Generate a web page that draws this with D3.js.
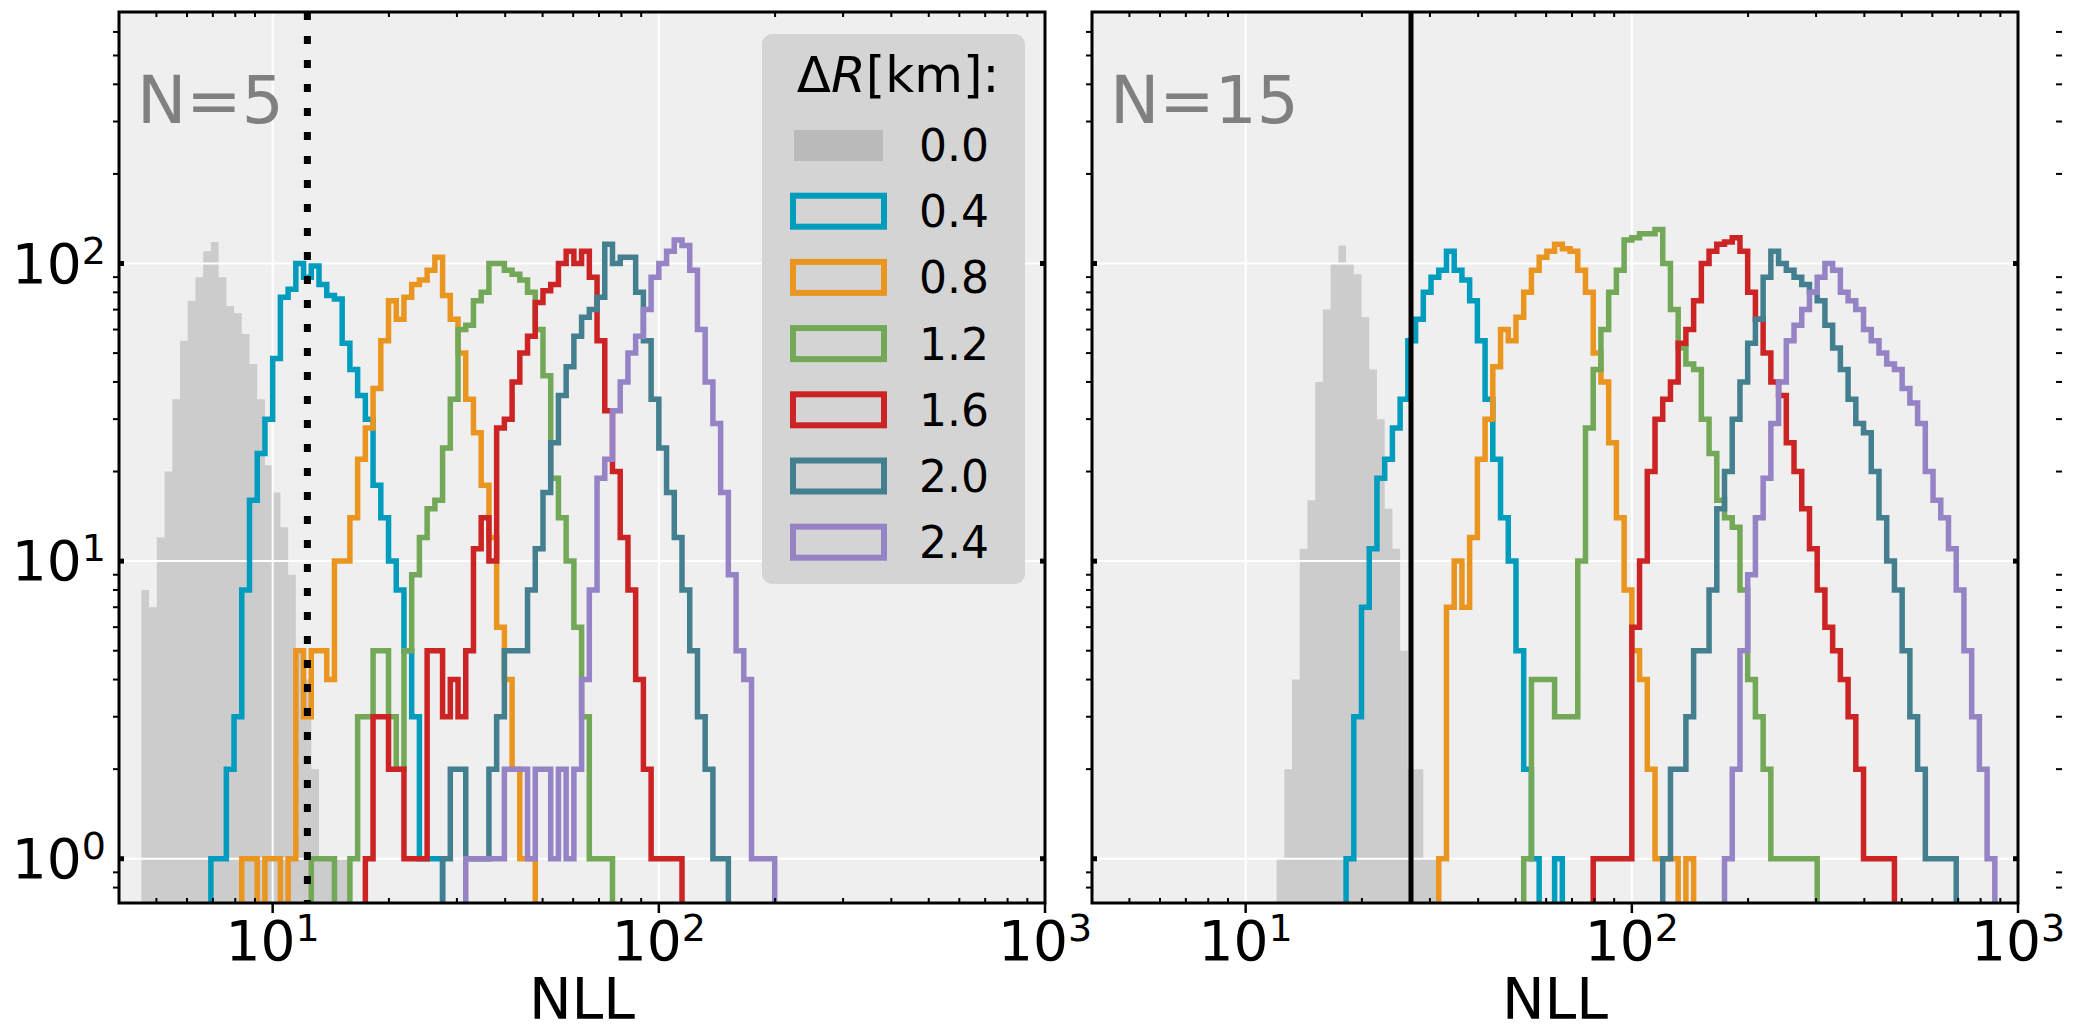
<!DOCTYPE html>
<html>
<head>
<meta charset="utf-8">
<script src="https://cdn.jsdelivr.net/npm/d3@7"></script>
<style>
  body { margin: 0; background: #fff; }
  svg { display: block; }
  text { font-family: "DejaVu Sans", sans-serif; }
</style>
</head>
<body>
<svg id="chart" width="2074" height="1035"></svg>
<script>
// legend entries + colours (first one is the filled reference histogram)
const dRLabels = ['0.0', '0.4', '0.8', '1.2', '1.6', '2.0', '2.4']
const colors = ['#cccccc', '#009cbd', '#ea951f', '#72a857', '#cc2424', '#437f8e', '#9583c5']

// histogram bins are 0.02 dex wide in NLL, each series = first bin edge (log10 NLL) + counts
const binDex = 0.02

// N=5 panel
const n5Starts = [0.66, 0.84, 0.92, 1.10, 1.24, 1.44, 1.50]
const n5Gray   = [8,7,12,20,35,55,75,90,110,118,90,72,68,58,46,35,21,17,13,9,5,4,2,1,1,1,1]
const n5Cyan   = [1,1,2,3,8,16,23,30,48,77,82,100,90,98,85,78,76,54,44,36,30,18,14,10,8,5,3,1,1,1]
const n5Orange = [1,1,0,1,1,0,1,5,3,5,5,4,10,10,14,22,28,38,55,75,65,77,85,88,95,105,78,65,50,35,27,18,12,6,4,2,1,1]
const n5Green  = [1,1,1,0,0,1,3,3,5,5,3,2,5,9,12,15,16,24,35,60,62,75,80,100,100,95,92,88,80,60,42,19,14,10,6,3,1,1,1]
const n5Red    = [1,3,3,2,2,1,1,1,5,5,3,4,3,5,11,14,10,28,30,40,50,57,74,81,85,100,110,100,110,90,55,32,20,12,8,4,2,1,1,1,1]
const n5Teal   = [1,2,2,1,1,1,2,3,5,5,5,8,11,17,25,36,45,57,66,70,77,116,100,105,105,80,55,35,24,17,12,8,5,3,2,1,1]
const n5Purple = [1,1,1,1,1,2,2,2,1,2,2,1,2,1,2,4,8,19,22,32,40,50,57,70,90,100,110,120,115,95,60,40,29,17,9,5,4,1,1,1]
const n5Threshold = 12.3

// N=15 panel
const n15Starts = [1.08, 1.26, 1.50, 1.72, 1.90, 2.08, 2.24]
const n15Gray   = [1,2,4,11,16,40,70,100,115,100,92,66,44,30,15,11,5,2,2,1,1]
const n15Cyan   = [1,3,7,11,19,22,28,35,55,65,80,90,95,110,95,88,75,55,35,22,14,10,5,2,1,0,0,1]
const n15Orange = [1,7,10,7,12,22,30,45,60,55,66,80,95,105,110,116,112,110,95,80,50,40,25,14,8,5,4,2,1,1,1,0,1]
const n15Green  = [1,4,4,4,3,3,3,10,28,44,60,80,95,120,122,126,126,130,100,70,52,46,44,30,23,16,14,13,8,4,3,2,1,1,1,1,1,1]
const n15Red    = [1,1,1,1,1,6,10,20,30,35,40,54,60,75,100,110,116,118,122,110,80,65,50,40,36,25,20,15,11,8,6,5,4,3,2,1,1,1,1]
const n15Teal   = [1,2,2,3,5,5,8,15,20,30,40,54,65,90,110,100,95,90,85,80,75,62,52,44,35,29,27,20,14,10,8,5,3,2,1,1,1,1]
const n15Purple = [1,2,5,9,14,19,29,40,55,62,70,80,90,100,95,80,75,70,60,55,50,46,44,38,34,29,20,16,14,11,8,5,3,2,1]
const n15Threshold = 26.8

// axis settings
const xDomain = [4, 1000]
const yDomain = [0.71, 700]
const xMajor = [10, 100, 1000]
const yMajor = [1, 10, 100]

const panels = [
    {left: 119, label: 'N=5', starts: n5Starts,
     series: [n5Gray, n5Cyan, n5Orange, n5Green, n5Red, n5Teal, n5Purple],
     vline: n5Threshold, dash: '8,16', vwidth: 7, yLabels: true, legend: true},
    {left: 1092, label: 'N=15', starts: n15Starts,
     series: [n15Gray, n15Cyan, n15Orange, n15Green, n15Red, n15Teal, n15Purple],
     vline: n15Threshold, dash: null, vwidth: 5, yLabels: false, legend: false}
]

const pw = 926, plotTop = 12, plotBottom = 903
const floorVal = 0.3 // zero counts drop below the axis

const svg = d3.select('#chart')

const y = d3.scaleLog().domain(yDomain).range([plotBottom, plotTop])

// minor ticks 2..9 per decade, kept inside the domain
function minors(domain) {
    let out = []
    for (let p = -1; p <= 3; p++) {
        for (let m = 2; m <= 9; m++) {
            let v = m * Math.pow(10, p)
            if (v > domain[0] * 1.0001 && v < domain[1] * 0.9999) out.push(v)
        }
    }
    return out
}

function stepPoints(start, counts) {
    let pts = [[Math.pow(10, start), floorVal]]
    counts.forEach(function(c, i) {
        let v = c > 0 ? c : floorVal
        pts.push([Math.pow(10, start + i * binDex), v])
        pts.push([Math.pow(10, start + (i + 1) * binDex), v])
    })
    pts.push([Math.pow(10, start + counts.length * binDex), floorVal])
    return pts
}

panels.forEach(function(p, pi) {
    const x = d3.scaleLog().domain(xDomain).range([p.left, p.left + pw])
    const g = svg.append('g')

    // background
    g.append('rect')
        .attr('x', p.left).attr('y', plotTop)
        .attr('width', pw).attr('height', plotBottom - plotTop)
        .attr('fill', '#efefef')

    const clipId = 'clip' + pi
    svg.append('clipPath').attr('id', clipId)
        .append('rect')
        .attr('x', p.left).attr('y', plotTop)
        .attr('width', pw).attr('height', plotBottom - plotTop)

    const line = d3.line()
        .x(d => x(d[0]))
        .y(d => y(d[1]))

    const plot = g.append('g').attr('clip-path', `url(#${clipId})`)

    // filled reference histogram (dR = 0)
    plot.append('path')
        .attr('d', line(stepPoints(p.starts[0], p.series[0])) + 'Z')
        .attr('fill', colors[0])
        .attr('stroke', 'none')

    // grid
    plot.selectAll('.gx').data(xMajor.slice(0, 2)).enter()
        .append('line')
        .attr('x1', d => x(d)).attr('x2', d => x(d))
        .attr('y1', plotTop).attr('y2', plotBottom)
        .attr('stroke', '#fff').attr('stroke-width', 2)
    plot.selectAll('.gy').data(yMajor).enter()
        .append('line')
        .attr('x1', p.left).attr('x2', p.left + pw)
        .attr('y1', d => y(d)).attr('y2', d => y(d))
        .attr('stroke', '#fff').attr('stroke-width', 2)

    // step outlines
    for (let s = 1; s < p.series.length; s++) {
        plot.append('path')
            .attr('d', line(stepPoints(p.starts[s], p.series[s])))
            .attr('fill', 'none')
            .attr('stroke', colors[s])
            .attr('stroke-width', 5.5)
            .attr('stroke-linejoin', 'miter')
    }

    // threshold line
    plot.append('line')
        .attr('x1', x(p.vline)).attr('x2', x(p.vline))
        .attr('y1', plotTop).attr('y2', plotBottom)
        .attr('stroke', '#000')
        .attr('stroke-width', p.vwidth)
        .attr('stroke-dasharray', p.dash)

    // panel label
    g.append('text')
        .attr('x', p.left + 18).attr('y', 123)
        .attr('font-size', 66)
        .attr('fill', '#808080')
        .text(p.label)

    // x ticks: majors outward, minors inward (bottom and top)
    g.selectAll('.xmaj').data(xMajor).enter()
        .append('line')
        .attr('x1', d => x(d)).attr('x2', d => x(d))
        .attr('y1', plotBottom).attr('y2', plotBottom + 10)
        .attr('stroke', '#000').attr('stroke-width', 2.5)
    const xMin = minors(xDomain)
    g.selectAll('.xmin').data(xMin).enter()
        .append('line')
        .attr('x1', d => x(d)).attr('x2', d => x(d))
        .attr('y1', plotBottom).attr('y2', plotBottom - 5)
        .attr('stroke', '#000').attr('stroke-width', 2)
    g.selectAll('.xmint').data(xMin).enter()
        .append('line')
        .attr('x1', d => x(d)).attr('x2', d => x(d))
        .attr('y1', plotTop).attr('y2', plotTop + 5)
        .attr('stroke', '#000').attr('stroke-width', 2)

    // y ticks: majors small inward on both sides, minors outward on the left
    g.selectAll('.ymaj').data(yMajor).enter()
        .append('line')
        .attr('x1', p.left).attr('x2', p.left + 5)
        .attr('y1', d => y(d)).attr('y2', d => y(d))
        .attr('stroke', '#000').attr('stroke-width', 5)
    g.selectAll('.ymajr').data(yMajor).enter()
        .append('line')
        .attr('x1', p.left + pw).attr('x2', p.left + pw - 5)
        .attr('y1', d => y(d)).attr('y2', d => y(d))
        .attr('stroke', '#000').attr('stroke-width', 5)
    g.selectAll('.ymin').data(minors(yDomain)).enter()
        .append('line')
        .attr('x1', p.left).attr('x2', p.left - 6)
        .attr('y1', d => y(d)).attr('y2', d => y(d))
        .attr('stroke', '#000').attr('stroke-width', 2)

    // spines
    g.append('rect')
        .attr('x', p.left).attr('y', plotTop)
        .attr('width', pw).attr('height', plotBottom - plotTop)
        .attr('fill', 'none')
        .attr('stroke', '#000').attr('stroke-width', 3)

    // x tick labels 10^n
    const xl = g.selectAll('.xl').data(xMajor).enter()
        .append('text')
        .attr('x', d => x(d)).attr('y', 960)
        .attr('text-anchor', 'middle')
        .attr('font-size', 55)
    xl.append('tspan').text('10')
    xl.append('tspan').attr('dy', -19).attr('font-size', 38).text(d => Math.round(Math.log10(d)))

    if (p.yLabels) {
        const yl = g.selectAll('.yl').data(yMajor).enter()
            .append('text')
            .attr('x', 106).attr('y', d => y(d) + 19)
            .attr('text-anchor', 'end')
            .attr('font-size', 55)
        yl.append('tspan').text('10')
        yl.append('tspan').attr('dy', -19).attr('font-size', 38).text(d => Math.round(Math.log10(d)))
    }

    // axis title
    g.append('text')
        .attr('x', p.left + pw / 2).attr('y', 1019)
        .attr('text-anchor', 'middle')
        .attr('font-size', 57)
        .text('NLL')

    if (p.legend) {
        const lg = g.append('g')
        lg.append('rect')
            .attr('x', 762).attr('y', 34)
            .attr('width', 263).attr('height', 550)
            .attr('rx', 10)
            .attr('fill', '#d4d4d4')
        const title = lg.append('text')
            .attr('x', 898).attr('y', 92)
            .attr('text-anchor', 'middle')
            .attr('font-size', 50)
        title.append('tspan').text('Δ')
        title.append('tspan').attr('font-style', 'italic').text('R')
        title.append('tspan').text('[km]:')

        dRLabels.forEach(function(lab, i) {
            const cy = 145 + i * 66.2
            if (i == 0) {
                lg.append('rect')
                    .attr('x', 794).attr('y', cy - 15)
                    .attr('width', 89).attr('height', 31)
                    .attr('fill', '#bababa')
            } else {
                lg.append('rect')
                    .attr('x', 793).attr('y', cy - 15.5)
                    .attr('width', 91).attr('height', 31)
                    .attr('fill', 'none')
                    .attr('stroke', colors[i])
                    .attr('stroke-width', 6)
            }
            lg.append('text')
                .attr('x', 919).attr('y', cy + 16)
                .attr('font-size', 44)
                .text(lab)
        })
    }
})

// edge of the next panel's y axis peeking in at the right border
svg.append('g').selectAll('line').data(minors(yDomain)).enter()
    .append('line')
    .attr('x1', 2056).attr('x2', 2062)
    .attr('y1', d => y(d)).attr('y2', d => y(d))
    .attr('stroke', '#000').attr('stroke-width', 2)
</script>
</body>
</html>
